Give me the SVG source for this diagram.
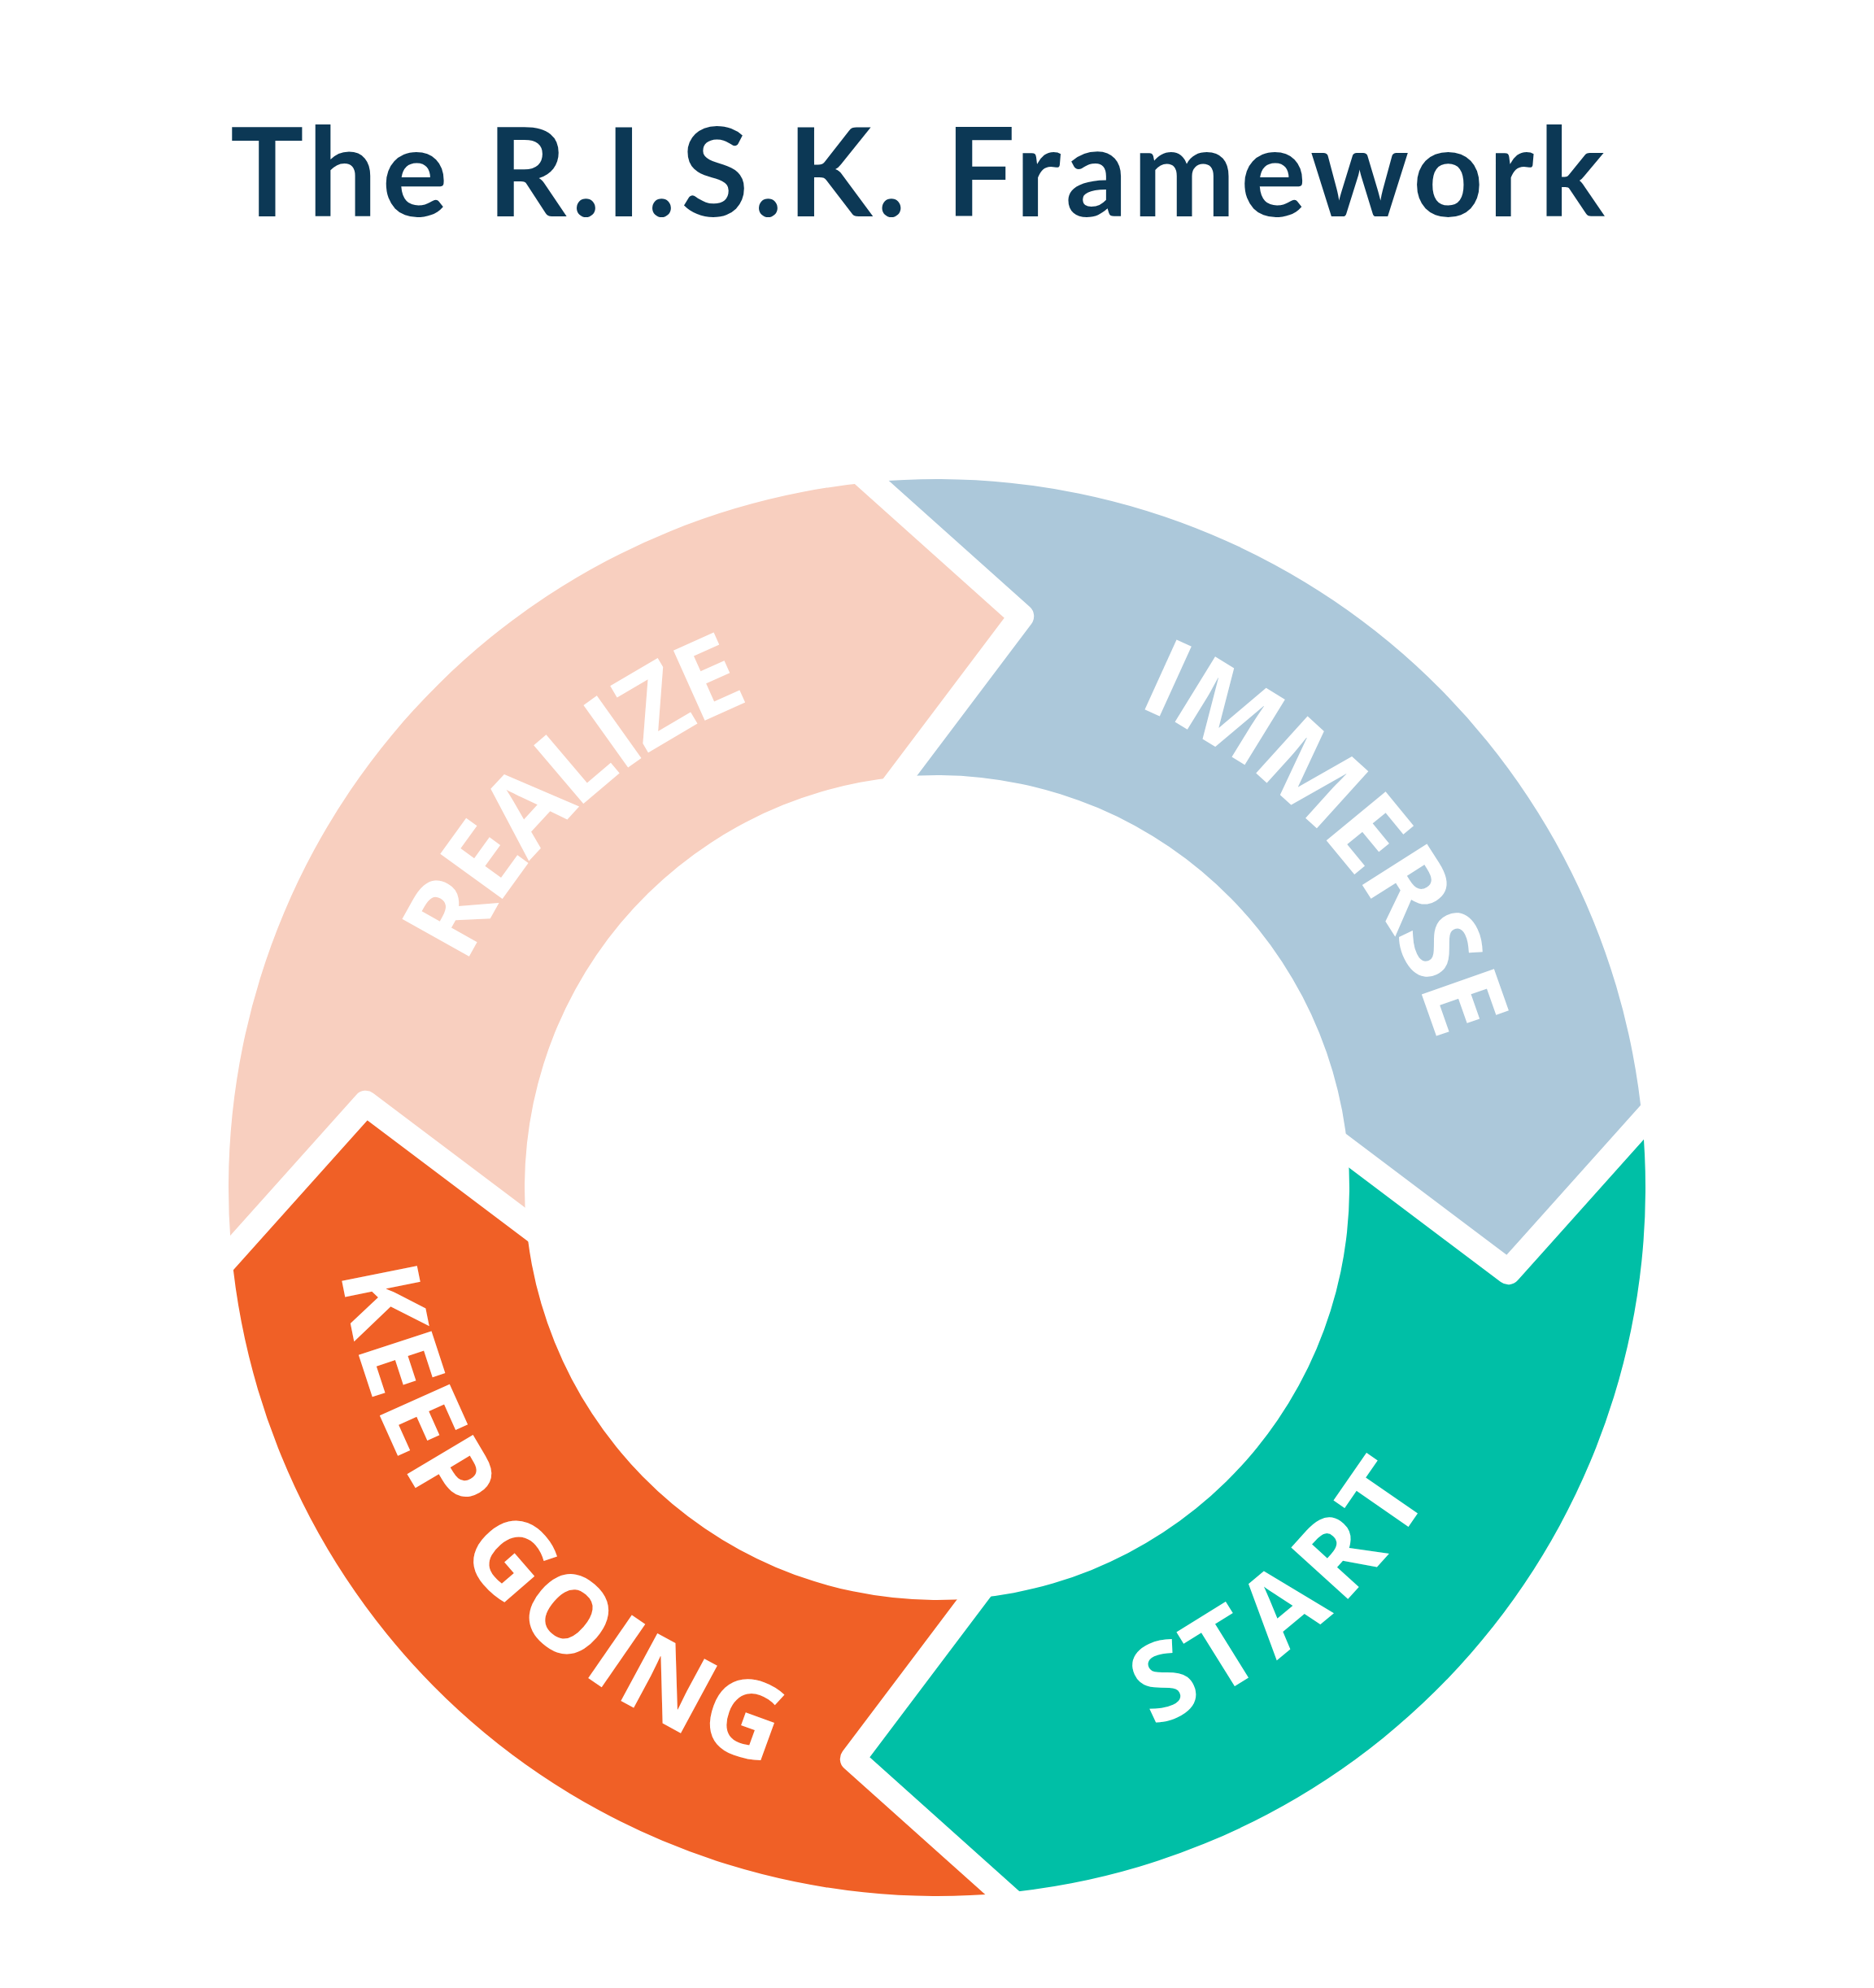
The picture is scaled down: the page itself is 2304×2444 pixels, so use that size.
<svg xmlns="http://www.w3.org/2000/svg" width="2304" height="2444" viewBox="0 0 2304 2444">
<style>
.title{font-family:Lato,'Liberation Sans',sans-serif;font-weight:700;font-size:151px;fill:#0C3855}
.label{font-family:'Open Sans','Noto Sans',sans-serif;font-weight:700;font-size:132px;fill:#FFFFFF;text-anchor:middle}
.sep{fill:none;stroke:#FFFFFF;stroke-width:31;stroke-linejoin:round;stroke-linecap:butt}
</style>
<defs>
<path id="arcTop" d="M 464 1460 A 688 688 0 0 1 1840 1460"/>
<path id="arcKeep" d="M 459 1460 A 693 693 0 0 0 1845 1460"/>
<path id="arcStart" d="M 485 1460 A 667 667 0 0 0 1819 1460"/>
</defs>
<rect width="2304" height="2444" fill="#FFFFFF"/>
<g id="title">
<text class="title" x="283" y="266" textLength="1690" lengthAdjust="spacing">The R.I.S.K. Framework</text>
</g>
<g id="realize">
<path fill="#F8CFBF" d="M 284.7 1540.5 A 871 871 0 0 1 1071.5 592.7 L 1255.7 757.6 L 1106.9 955.0 A 507 507 0 0 0 647.0 1505.1 L 449.6 1356.3 Z"/>
<text class="label" dy="47" letter-spacing="0"><textPath href="#arcTop" startOffset="566.8">REALIZE</textPath></text>
</g>
<g id="immerse">
<path fill="#ACC8DA" d="M 1071.5 592.7 A 871 871 0 0 1 2019.3 1379.5 L 1854.4 1563.7 L 1657.0 1414.9 A 507 507 0 0 0 1106.9 955.0 L 1255.7 757.6 Z"/>
<text class="label" dy="47" letter-spacing="2"><textPath href="#arcTop" startOffset="1658.9">IMMERSE</textPath></text>
</g>
<g id="start">
<path fill="#00BFA6" d="M 2019.3 1379.5 A 871 871 0 0 1 1232.5 2327.3 L 1048.3 2162.4 L 1197.1 1965.0 A 507 507 0 0 0 1657.0 1414.9 L 1854.4 1563.7 Z"/>
<text class="label" dy="47" letter-spacing="6"><textPath href="#arcStart" startOffset="1515.7">START</textPath></text>
</g>
<g id="keep-going">
<path fill="#F06026" d="M 1232.5 2327.3 A 871 871 0 0 1 284.7 1540.5 L 449.6 1356.3 L 647.0 1505.1 A 507 507 0 0 0 1197.1 1965.0 L 1048.3 2162.4 Z"/>
<text class="label" dy="47" letter-spacing="0"><textPath href="#arcKeep" startOffset="494.1">KEEP GOING</textPath></text>
</g>
<g id="separators">
<path class="sep" d="M 1053.1 576.2 L 1255.7 757.6 L 1084.6 984.6"/>
<path class="sep" d="M 2035.8 1361.1 L 1854.4 1563.7 L 1627.4 1392.6"/>
<path class="sep" d="M 1250.9 2343.8 L 1048.3 2162.4 L 1219.4 1935.4"/>
<path class="sep" d="M 268.2 1558.9 L 449.6 1356.3 L 676.6 1527.4"/>
</g>
</svg>
